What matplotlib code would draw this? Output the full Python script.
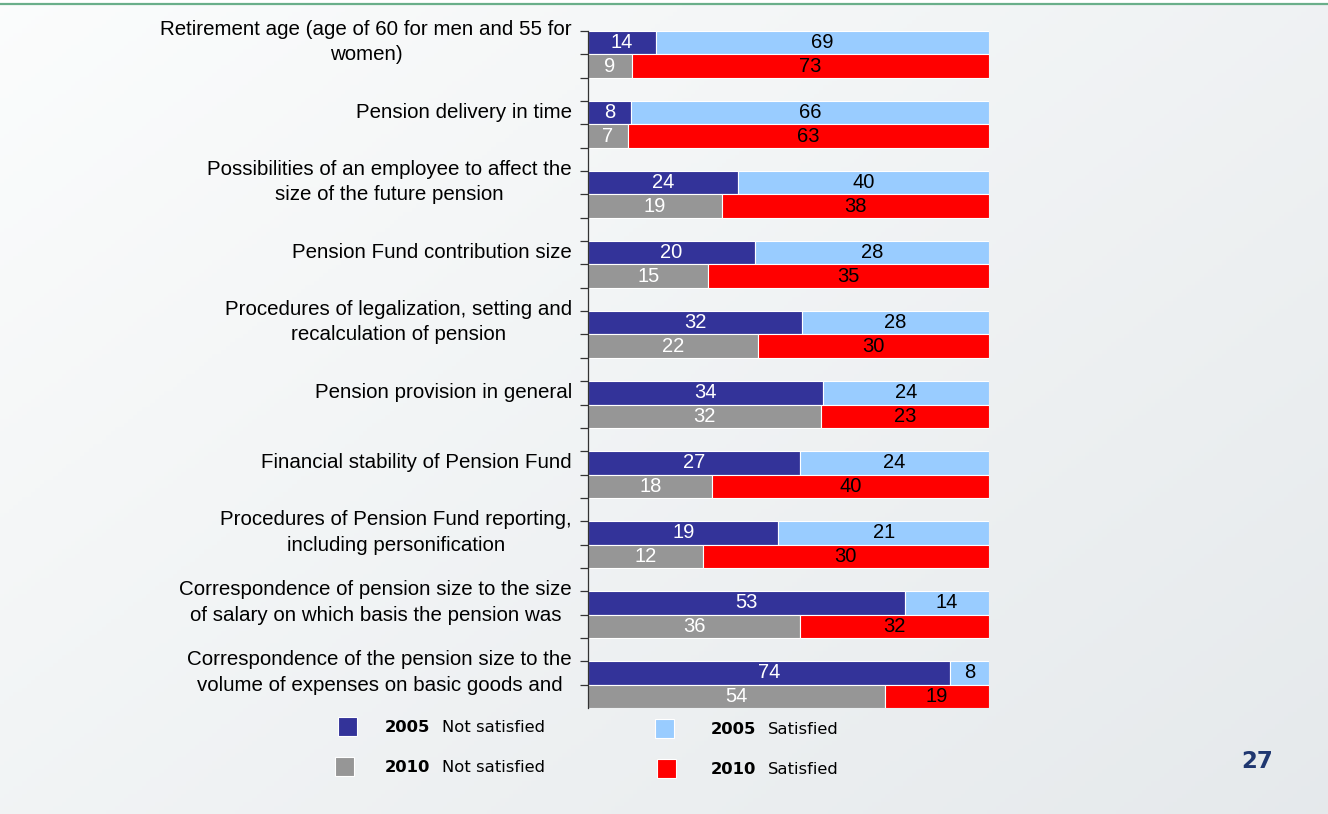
import numpy as np
import matplotlib.pyplot as plt

categories = [
    "Retirement age (age of 60 for men and 55 for\nwomen)",
    "Pension delivery in time",
    "Possibilities of an employee to affect the\nsize of the future pension",
    "Pension Fund contribution size",
    "Procedures of legalization, setting and\nrecalculation of pension",
    "Pension provision in general",
    "Financial stability of Pension Fund",
    "Procedures of Pension Fund reporting,\nincluding personification",
    "Correspondence of pension size to the size\nof salary on which basis the pension was",
    "Correspondence of the pension size to the\nvolume of expenses on basic goods and",
]
not_sat_2005 = [14, 8, 24, 20, 32, 34, 27, 19, 53, 74]
sat_2005 = [69, 66, 40, 28, 28, 24, 24, 21, 14, 8]
not_sat_2010 = [9, 7, 19, 15, 22, 32, 18, 12, 36, 54]
sat_2010 = [73, 63, 38, 35, 30, 23, 40, 30, 32, 19]

c_ns05, c_s05 = "#333399", "#99CCFF"
c_ns10, c_s10 = "#969696", "#FF0000"

W, H = 1328, 814
fig = plt.figure(figsize=(W / 100, H / 100), dpi=100)

# slide background: soft diagonal gradient plus a green rule at the top
bg = fig.add_axes([0, 0, 1, 1])
yy, xx = np.mgrid[0:1:200j, 0:1:300j]
t = np.clip(0.55 * xx + 0.45 * yy, 0, 1)
top = np.array([0.985, 0.99, 0.99])
bot = np.array([0.90, 0.915, 0.925])
img = top[None, None, :] * (1 - t[..., None]) + bot[None, None, :] * t[..., None]
bg.imshow(img, extent=[0, 1, 0, 1], aspect="auto", origin="upper")
bg.axhspan(1 - 3 / H, 1, color="white")
bg.axhline(1 - 4 / H, color="#6AAF8A", lw=1.6)
bg.set_xlim(0, 1)
bg.set_ylim(0, 1)
bg.axis("off")

ax = fig.add_axes([588 / W, (H - 708) / H, 401 / W, 677 / H])
ax.set_facecolor("none")

n = len(categories)
y05 = np.arange(n) * 3
y10 = y05 + 1

def shares(a, b):
    a = np.array(a, float)
    b = np.array(b, float)
    tot = a + b
    return a / tot * 100, b / tot * 100

p_ns05, p_s05 = shares(not_sat_2005, sat_2005)
p_ns10, p_s10 = shares(not_sat_2010, sat_2010)

kw = dict(height=1.0, edgecolor="white", linewidth=0.8)
ax.barh(y05, p_ns05, color=c_ns05, **kw)
ax.barh(y05, p_s05, left=p_ns05, color=c_s05, **kw)
ax.barh(y10, p_ns10, color=c_ns10, **kw)
ax.barh(y10, p_s10, left=p_ns10, color=c_s10, **kw)

lab_font = dict(family="Liberation Sans", fontsize=14.5, ha="center", va="center")
for i in range(n):
    ax.text(p_ns05[i] / 2, y05[i], str(not_sat_2005[i]), color="white", **lab_font)
    ax.text(p_ns05[i] + p_s05[i] / 2, y05[i], str(sat_2005[i]), color="black", **lab_font)
    ax.text(p_ns10[i] / 2, y10[i], str(not_sat_2010[i]), color="white", **lab_font)
    ax.text(p_ns10[i] + p_s10[i] / 2, y10[i], str(sat_2010[i]), color="black", **lab_font)

ax.set_xlim(0, 100)
ax.set_ylim(3 * n - 1.5, -0.5)
ax.set_xticks([])
ax.set_yticks(np.arange(3 * n - 1) - 0.5)
ax.set_yticklabels([])
ax.tick_params(axis="y", direction="out", length=6, width=0.9, color="#333333")
for s in ["top", "right", "bottom"]:
    ax.spines[s].set_visible(False)
ax.spines["left"].set_color("#333333")
ax.spines["left"].set_linewidth(0.9)

for i, cat in enumerate(categories):
    ax.text(-4.0, y05[i] - 0.02, cat, ha="right", va="center", multialignment="center",
            family="Liberation Sans", fontsize=14.8, color="black", linespacing=1.42,
            transform=ax.transData, clip_on=False)

# legend drawn as figure-level squares and labels
legend = [
    (c_ns05, "2005", "Not satisfied", 338, 727),
    (c_ns10, "2010", "Not satisfied", 335, 767),
    (c_s05, "2005", "Satisfied", 655, 729),
    (c_s10, "2010", "Satisfied", 657, 769),
]
for color, year, txt, px, py in legend:
    fig.patches.append(plt.Rectangle((px / W, 1 - (py + 9) / H), 19 / W, 19 / H,
                                     transform=fig.transFigure, facecolor=color,
                                     edgecolor="white", lw=0.8))
    fig.text(385 / W if px < 500 else 711 / W, 1 - py / H, year, fontsize=11.8,
             fontweight="bold", family="DejaVu Sans", va="center")
    fig.text(442 / W if px < 500 else 768 / W, 1 - py / H, txt, fontsize=11.8,
             family="DejaVu Sans", va="center")

fig.text(1257 / W, 1 - 762 / H, "27", fontsize=16.5, fontweight="bold",
         family="DejaVu Sans", color="#1F3770", ha="center", va="center")

fig.savefig("out.png", dpi=100)
